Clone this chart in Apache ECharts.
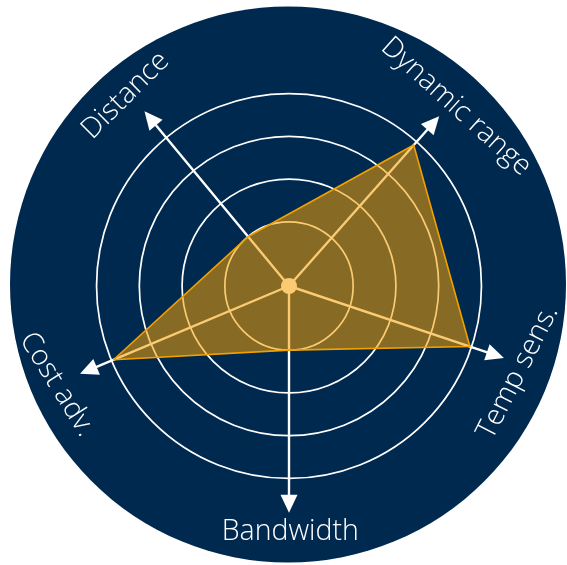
<!DOCTYPE html>
<html><head><meta charset="utf-8">
<script src="https://cdn.jsdelivr.net/npm/echarts@6/dist/echarts.min.js"></script>
<style>html,body{margin:0;padding:0;background:#fff}#c{width:567px;height:565px}</style>
</head><body><div id="c"></div>
<script>
// ---- data ----
const axisNames = ['Distance', 'Dynamic range', 'Temp sens.', 'Bandwidth', 'Cost adv.'];
const seriesValues = [1.0, 3.9, 3.96, 1.0, 3.95];
const ringValues = [1, 2, 3, 4];

// ---- layout (angles in degrees, counter-clockwise from east) ----
const axisAngles = [129.6, 48.5, 341.5, 270, 202.8];
const arrowValue = 4.8;
const labelLayout = [ // [radius value, angle, rotation deg]
  [5.37, 130.6, 45],
  [5.23, 47.0, -42],
  [5.22, 339.4, 63],
  [5.25, 270.3, 0],
  [5.39, 203.0, -58]
];

const NAVY = '#00294F';
const chart = echarts.init(document.getElementById('c'), null, {renderer: 'canvas'});

function ringItem(params, api) {
  const cs = params.coordSys;
  const p = api.coord([api.value(0), 0]);
  const r = Math.hypot(p[0] - cs.cx, p[1] - cs.cy);
  return {type: 'circle', silent: true,
    shape: {cx: cs.cx, cy: cs.cy, r: r},
    style: {fill: 'none', stroke: '#ffffff', lineWidth: 1.7}};
}
function axisItem(params, api) {
  const cs = params.coordSys;
  const tip = api.coord([api.value(0), api.value(1)]);
  const dx = tip[0] - cs.cx, dy = tip[1] - cs.cy;
  const len = Math.hypot(dx, dy);
  const ux = dx / len, uy = dy / len;
  const hl = 18, hw = 8.5;
  const bx = tip[0] - ux * hl, by = tip[1] - uy * hl;
  return {type: 'group', silent: true, children: [
    {type: 'line', shape: {x1: cs.cx, y1: cs.cy, x2: bx + ux * 2, y2: by + uy * 2},
      style: {stroke: '#ffffff', lineWidth: 2.4}},
    {type: 'polygon', shape: {points: [tip, [bx - uy * hw, by + ux * hw], [bx + uy * hw, by - ux * hw]]},
      style: {fill: '#ffffff'}}
  ]};
}
const polyData = seriesValues.map((v, i) => [v, axisAngles[i]]);
function polyItem(params, api) {
  if (params.dataIndex !== 0) return null;
  const pts = polyData.map(d => api.coord(d));
  return {type: 'polygon', silent: true, shape: {points: pts},
    style: {fill: 'rgba(245,161,0,0.55)', stroke: '#F2A000', lineWidth: 1.6, lineJoin: 'round'}};
}
function labelItem(params, api) {
  const p = api.coord([api.value(0), api.value(1)]);
  const rot = labelLayout[params.dataIndex][2];
  return {type: 'text', silent: true, x: p[0], y: p[1], rotation: rot * Math.PI / 180,
    style: {text: axisNames[params.dataIndex], fill: '#ffffff', fontSize: 28.5,
      fontFamily: '"Open Sans", sans-serif', fontWeight: 300,
      align: 'center', verticalAlign: 'middle'}};
}

chart.setOption({
  animation: false,
  graphic: [{type: 'circle', z: 0, silent: true, shape: {cx: 288, cy: 284.5, r: 278}, style: {fill: NAVY}}],
  polar: {center: [289, 286], radius: 278},
  radiusAxis: {type: 'value', min: -0.5, max: 6, show: false},
  angleAxis: {type: 'value', min: 0, max: 360, startAngle: 0, clockwise: false, show: false},
  series: [
    {type: 'custom', coordinateSystem: 'polar', z: 2, renderItem: ringItem,
      data: ringValues.map(v => [v, 0])},
    {type: 'custom', coordinateSystem: 'polar', z: 3, renderItem: axisItem,
      data: axisAngles.map(a => [arrowValue, a])},
    {type: 'custom', coordinateSystem: 'polar', z: 4,
      renderItem: function (params, api) {
        const cs = params.coordSys;
        return {type: 'circle', silent: true, shape: {cx: cs.cx, cy: cs.cy, r: 8}, style: {fill: '#ffffff'}};
      }, data: [[-0.5, 0]]},
    {type: 'custom', coordinateSystem: 'polar', z: 5, renderItem: polyItem, data: polyData},
    {type: 'custom', coordinateSystem: 'polar', z: 6, renderItem: labelItem,
      data: labelLayout.map(l => [l[0], l[1]])}
  ]
});
</script></body></html>
